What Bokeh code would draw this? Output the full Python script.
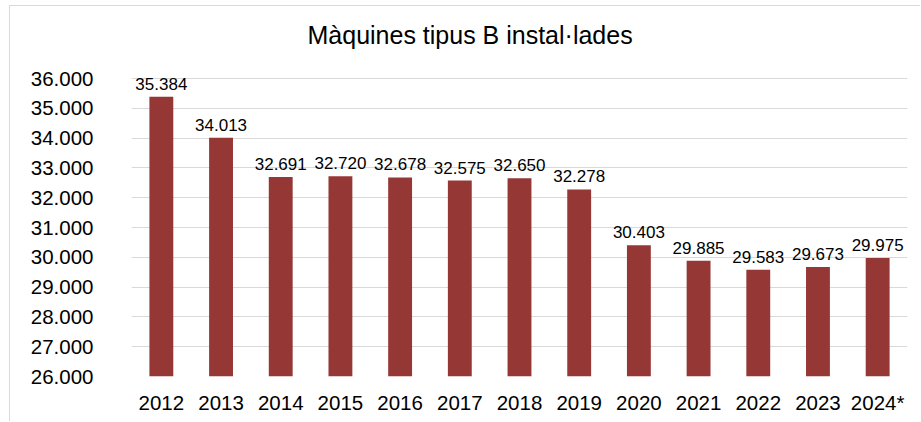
from bokeh.plotting import figure
from bokeh.models import ColumnDataSource, FixedTicker, Range1d, Label
from bokeh.core.properties import value
from bokeh.embed import file_html
from bokeh.resources import INLINE

years = ["2012", "2013", "2014", "2015", "2016", "2017", "2018", "2019",
         "2020", "2021", "2022", "2023", "2024*"]
machines = [35384, 34013, 32691, 32720, 32678, 32575, 32650, 32278,
            30403, 29885, 29583, 29673, 29975]
y_ticks = [26000, 27000, 28000, 29000, 30000, 31000, 32000, 33000, 34000, 35000, 36000]
y_tick_labels = ["26.000", "27.000", "28.000", "29.000", "30.000", "31.000",
                 "32.000", "33.000", "34.000", "35.000", "36.000"]
title_text = "Màquines tipus B instal·lades"
base_value = 26000

labels = [f"{v:,}".replace(",", ".") for v in machines]
src = ColumnDataSource(dict(x=years, top=machines, label=labels))

FONT = "Liberation Sans"
BAR = "#953735"
GRID = "#d9d9d9"

# the plot frame reaches up to the top of the chart so the title can sit inside it;
# 298 px span the 26.000-36.000 axis, the frame is 370 px tall
y_top = 26000 + 10000 * 370 / 298

p = figure(x_range=years, y_range=Range1d(26000, y_top),
           width=911, height=416, output_backend="svg", toolbar_location=None,
           min_border_left=121, min_border_right=14, min_border_top=0,
           min_border_bottom=46)
p.styles = {"border-left": "1px solid #d9d9d9", "border-top": "1px solid #d9d9d9",
            "margin-left": "9px", "margin-top": "5px"}

p.add_layout(Label(x=176, y=342, x_units="screen", y_units="screen", text=title_text,
                   text_font=FONT, text_font_size="25px", text_color="#000000",
                   text_align="left", text_baseline="alphabetic"))

p.vbar(x="x", top="top", bottom=base_value, width=0.4, source=src,
       fill_color=BAR, line_color=None)
p.text(x="x", y="top", text="label", source=src, text_align="center",
       text_baseline="alphabetic", y_offset=-13, text_font=value(FONT),
       text_font_size="17px", text_color="#000000")

p.outline_line_color = None
p.background_fill_color = "white"
p.border_fill_color = "white"

p.xgrid.grid_line_color = None
p.ygrid.grid_line_color = GRID
p.ygrid.grid_line_width = 1.2
p.yaxis.ticker = FixedTicker(ticks=y_ticks)
p.yaxis.major_label_overrides = {t: l for t, l in zip(y_ticks, y_tick_labels)}

for ax in (p.xaxis, p.yaxis):
    ax.axis_line_color = None
    ax.major_tick_line_color = None
    ax.minor_tick_line_color = None
    ax.major_tick_out = 0
    ax.major_tick_in = 0
    ax.major_label_text_font = FONT
    ax.major_label_text_font_size = "20.5px"
    ax.major_label_text_color = "#000000"
p.yaxis.major_label_standoff = 38
p.xaxis.major_label_standoff = 14
p.x_range.range_padding = 0.0

open("out.html", "w").write(file_html(p, INLINE))
